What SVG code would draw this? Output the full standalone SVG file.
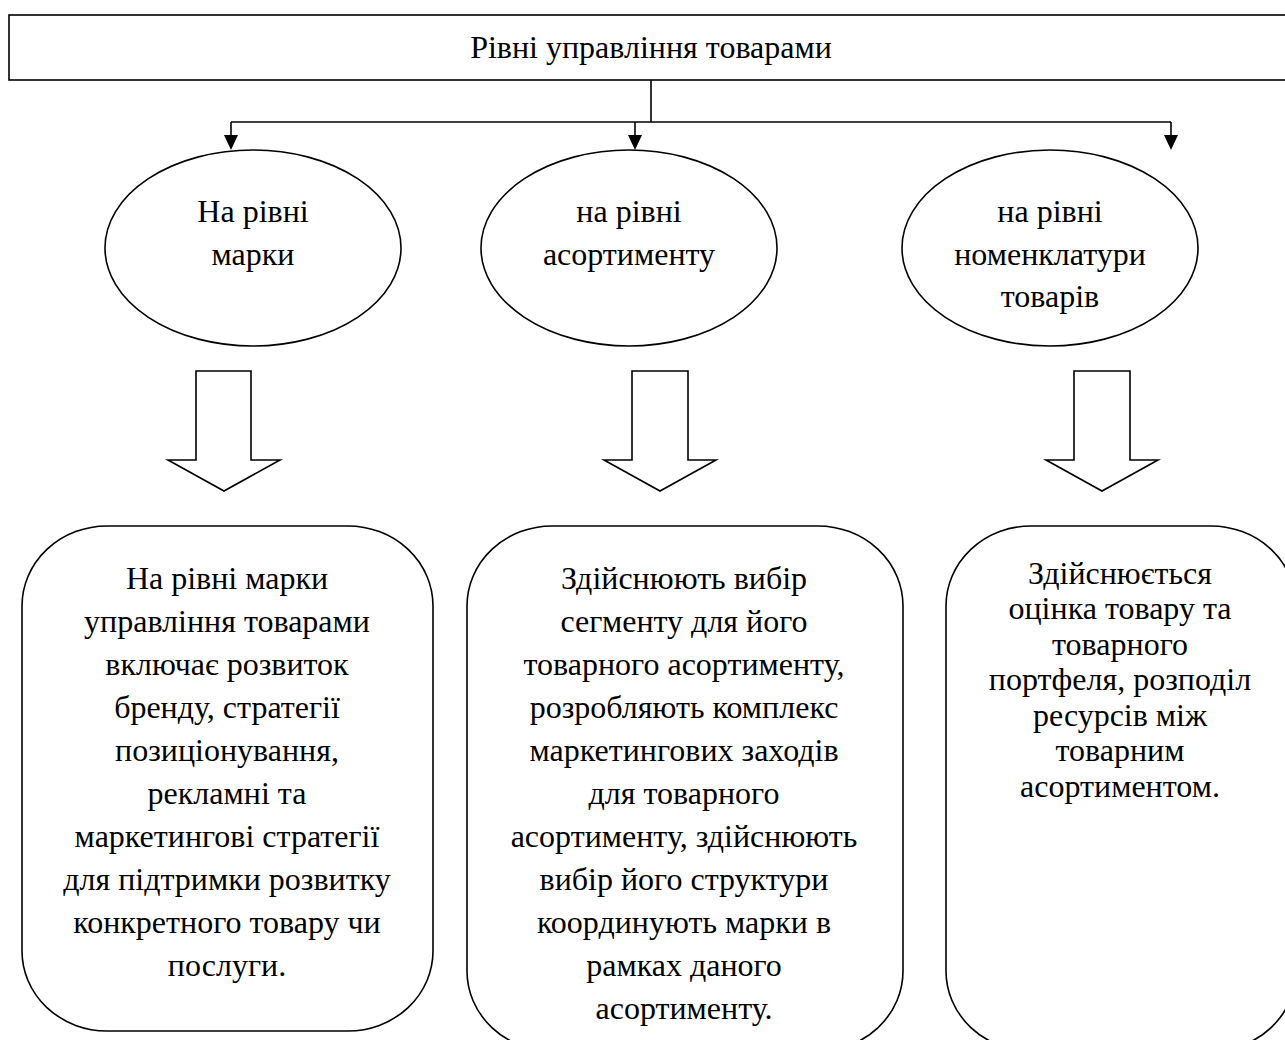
<svg xmlns="http://www.w3.org/2000/svg" width="1285" height="1040" viewBox="0 0 1285 1040">
<style>
  .shape { fill: #fff; stroke: #000; stroke-width: 1.6; }
  .line { fill: none; stroke: #000; stroke-width: 1.6; }
  text { font-family: "Liberation Serif", "Times New Roman", serif; font-size: 32px; fill: #000; text-anchor: middle; }
</style>
<defs>
  <marker id="ah" viewBox="0 0 10 10" refX="10" refY="5" markerWidth="10" markerHeight="10" markerUnits="userSpaceOnUse" orient="auto">
    <path d="M0,0 L10,5 L0,10 Z" fill="#000"/>
  </marker>
</defs>
<rect width="1285" height="1040" fill="#fff"/>

<g id="title">
  <rect class="shape" x="9" y="15" width="1285" height="65"/>
  <text x="651" y="58">Рівні управління товарами</text>
</g>

<g id="connectors">
  <path class="line" d="M651,80 V122"/>
  <path class="line" d="M231,122 H1171"/>
  <path d="M231,122 V136" class="line"/>
  <path d="M635,122 V136" class="line"/>
  <path d="M1171,122 V136" class="line"/>
  <path d="M224,135 L238,135 L231,150 Z" fill="#000"/>
  <path d="M628,135 L642,135 L635,150 Z" fill="#000"/>
  <path d="M1164,135 L1178,135 L1171,150 Z" fill="#000"/>
</g>

<g id="level-brand">
  <ellipse class="shape" cx="253" cy="248" rx="148" ry="98"/>
  <text x="253" y="222">На рівні</text>
  <text x="253" y="265">марки</text>
</g>
<g id="level-assortment">
  <ellipse class="shape" cx="629" cy="248" rx="148" ry="98"/>
  <text x="629" y="222">на рівні</text>
  <text x="629" y="265">асортименту</text>
</g>
<g id="level-nomenclature">
  <ellipse class="shape" cx="1050" cy="248" rx="148" ry="98"/>
  <text x="1050" y="222">на рівні</text>
  <text x="1050" y="265">номенклатури</text>
  <text x="1050" y="307">товарів</text>
</g>

<g id="block-arrow-1">
  <path class="shape" d="M196,371 H251 V460 H280 L224,491 L168,460 H196 Z"/>
</g>
<g id="block-arrow-2">
  <path class="shape" d="M632,371 H688 V460 H716 L660,491 L604,460 H632 Z"/>
</g>
<g id="block-arrow-3">
  <path class="shape" d="M1074,371 H1130 V460 H1158 L1102,491 L1046,460 H1074 Z"/>
</g>

<g id="desc-brand">
  <rect class="shape" x="22" y="526" width="411" height="505" rx="85" ry="80"/>
  <text x="227" y="589">На рівні марки</text>
  <text x="227" y="632">управління товарами</text>
  <text x="227" y="675">включає розвиток</text>
  <text x="227" y="718">бренду, стратегії</text>
  <text x="227" y="761">позиціонування,</text>
  <text x="227" y="804">рекламні та</text>
  <text x="227" y="847">маркетингові стратегії</text>
  <text x="227" y="890">для підтримки розвитку</text>
  <text x="227" y="933">конкретного товару чи</text>
  <text x="227" y="976">послуги.</text>
</g>

<g id="desc-assortment">
  <rect class="shape" x="467" y="526" width="436" height="525" rx="85" ry="80"/>
  <text x="684" y="589">Здійснюють вибір</text>
  <text x="684" y="632">сегменту для його</text>
  <text x="684" y="675">товарного асортименту,</text>
  <text x="684" y="718">розробляють комплекс</text>
  <text x="684" y="761">маркетингових заходів</text>
  <text x="684" y="804">для товарного</text>
  <text x="684" y="847">асортименту, здійснюють</text>
  <text x="684" y="890">вибір його структури</text>
  <text x="684" y="933">координують марки в</text>
  <text x="684" y="976">рамках даного</text>
  <text x="684" y="1019">асортименту.</text>
</g>

<g id="desc-nomenclature">
  <rect class="shape" x="946" y="526" width="350" height="525" rx="85" ry="80"/>
  <text x="1120" y="584">Здійснюється</text>
  <text x="1120" y="619">оцінка товару та</text>
  <text x="1120" y="655">товарного</text>
  <text x="1120" y="690">портфеля, розподіл</text>
  <text x="1120" y="726">ресурсів між</text>
  <text x="1120" y="761">товарним</text>
  <text x="1120" y="797">асортиментом.</text>
</g>
</svg>
